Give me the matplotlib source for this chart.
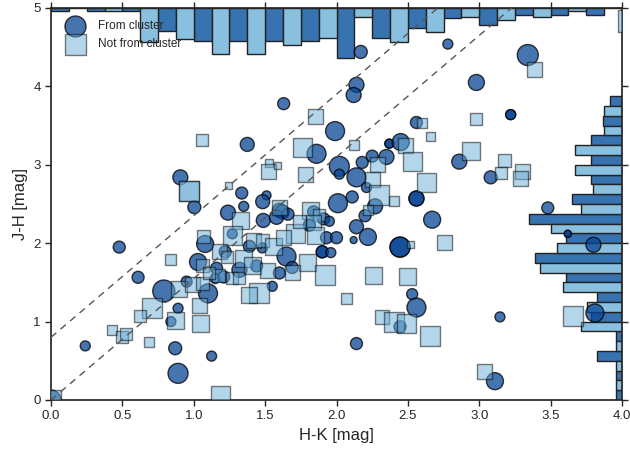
import numpy as np
import matplotlib
matplotlib.use("Agg")
import matplotlib.pyplot as plt

plt.rcParams["font.family"] = ["Liberation Sans", "DejaVu Sans"]

# histogram bins (0.25 mag), densities
bin_edges = np.arange(0, 4.01, 0.25)
top_cluster = [0.043, 0.043, 0.043, 0.298, 0.426, 0.426, 0.426, 0.426,
               0.638, 0.383, 0.255, 0.128, 0.213, 0.085, 0.085, 0.085]
top_field = [0.0, 0.043, 0.439, 0.392, 0.583, 0.583, 0.468, 0.383,
             0.115, 0.430, 0.311, 0.115, 0.158, 0.115, 0.043, 0.0]
right_cluster = [0.043, 0.043, 0.174, 0.043, 0.217, 0.174, 0.391, 0.608,
                 0.391, 0.652, 0.348, 0.217, 0.217, 0.217, 0.130, 0.087]
right_field = [0.041, 0.041, 0.041, 0.289, 0.247, 0.412, 0.577, 0.454,
               0.495, 0.289, 0.206, 0.330, 0.330, 0.124, 0.124, 0.0]

# reddening lines: J-H = slope * (H-K) + intercept
red_slope = 1.55
red_intercepts = [0.0, 0.8]

# cluster members (H-K, J-H, marker diameter in px)
cl_hk = [2.17, 2.78, 3.34, 2.98, 2.14, 2.12, 3.22, 3.22, 1.63, 1.99,
         1.375, 1.86, 2.02, 0.906, 1.336, 1.004, 1.51, 1.483, 1.60, 1.62,
         1.24, 0.478, 1.487, 1.81, 1.91, 1.93, 2.00, 1.08, 1.27, 2.56,
         2.37, 2.37, 2.45, 2.25, 2.35, 2.18, 2.02, 2.14, 2.21, 2.11,
         2.01, 2.56, 2.56, 2.27, 2.20, 0.61, 1.03, 0.79, 0.95, 1.10,
         0.89, 0.84, 1.16, 1.15, 1.22, 1.21, 1.32, 1.39, 1.48, 1.44,
         2.14, 2.22, 2.12, 2.445, 2.445, 1.90, 1.90, 1.96, 1.65, 1.69,
         2.53, 2.56, 2.445, 2.86, 3.08, 2.67, 3.145, 2.14, 3.11, 0.24,
         0.87, 0.89, 1.125, 3.48, 3.62, 3.62, 3.80, 3.81, 1.58, 1.66,
         1.84, 1.95, 1.35, 1.55, 1.60, 0.0]
cl_jh = [4.44, 4.54, 4.40, 4.05, 4.02, 3.89, 3.64, 3.64, 3.78, 3.43,
         3.26, 3.14, 2.98, 2.84, 2.64, 2.46, 2.61, 2.53, 2.42, 2.40,
         2.39, 1.95, 2.29, 2.23, 2.31, 2.07, 2.07, 1.99, 2.12, 3.54,
         3.27, 3.27, 3.29, 3.11, 3.10, 3.03, 2.88, 2.84, 2.71, 2.59,
         2.51, 2.57, 2.57, 2.47, 2.35, 1.565, 1.76, 1.39, 1.51, 1.36,
         1.17, 1.00, 1.68, 1.55, 1.89, 1.57, 1.66, 1.96, 1.94, 1.71,
         2.21, 2.08, 2.04, 1.95, 1.95, 1.89, 1.89, 1.88, 1.83, 1.69,
         1.35, 1.18, 0.935, 3.04, 2.84, 2.30, 1.06, 0.72, 0.24, 0.69,
         0.66, 0.34, 0.56, 2.45, 2.12, 2.12, 1.98, 1.11, 2.33, 2.37,
         2.40, 2.28, 2.47, 1.45, 1.62, 0.0]
cl_size = [13, 10, 21, 16, 15, 15, 10, 10, 12, 19,
           14, 19, 20, 15, 12, 13, 9, 14, 14, 14,
           15, 12, 14, 12, 12, 12, 12, 17, 10, 12,
           9, 9, 17, 12, 15, 12, 10, 19, 10, 12,
           19, 15, 15, 15, 12, 12, 17, 22, 11, 19,
           10, 10, 12, 10, 12, 12, 15, 12, 10, 12,
           14, 17, 7, 20, 20, 12, 12, 10, 19, 12,
           11, 19, 12, 15, 13, 17, 10, 12, 17, 10,
           13, 20, 10, 12, 7, 7, 15, 18, 14, 12,
           12, 10, 10, 10, 12, 20]

# non-members (H-K, J-H, marker side in px)
nc_hk = [3.39, 1.85, 1.06, 1.76, 1.525, 1.525, 1.585, 1.78, 0.97, 0.97,
         1.24, 1.60, 1.33, 1.71, 1.82, 1.88, 1.07, 1.27, 2.60, 2.12,
         2.48, 2.66, 2.53, 2.29, 2.25, 2.63, 2.30, 2.40, 2.22, 0.84,
         1.06, 0.90, 0.99, 1.06, 1.04, 0.705, 0.62, 0.87, 1.05, 1.18,
         1.17, 1.11, 1.23, 1.27, 1.32, 1.35, 1.42, 1.48, 1.56, 1.41,
         1.46, 1.39, 2.52, 1.80, 1.92, 1.69, 2.26, 2.50, 2.07, 2.32,
         2.40, 2.49, 2.98, 2.94, 3.18, 3.15, 3.30, 3.29, 2.755, 2.655,
         3.04, 0.425, 0.495, 0.525, 0.69, 1.19, 3.66, 4.05, 1.84, 1.85,
         1.63, 1.74, 1.52, 0.0]
nc_jh = [4.21, 3.61, 3.31, 3.22, 3.02, 2.92, 2.99, 2.88, 2.67, 2.67,
         2.73, 2.45, 2.29, 2.13, 2.42, 2.36, 2.08, 2.10, 3.53, 3.25,
         3.24, 3.36, 3.04, 3.00, 2.81, 2.77, 2.61, 2.54, 2.42, 1.79,
         1.72, 1.42, 1.47, 1.49, 1.21, 1.17, 1.075, 1.01, 0.98, 1.89,
         1.59, 1.62, 1.83, 1.55, 1.55, 1.81, 2.04, 2.04, 1.96, 1.71,
         1.36, 1.34, 1.98, 1.76, 1.60, 1.62, 1.59, 1.57, 1.30, 1.06,
         1.00, 0.98, 3.59, 3.17, 3.05, 2.90, 2.92, 2.83, 2.01, 0.81,
         0.36, 0.89, 0.80, 0.84, 0.74, 0.06, 1.07, 4.84, 2.27, 2.10,
         2.07, 2.28, 1.65, 0.0]
nc_size = [15, 15, 12, 19, 8, 15, 7, 15, 20, 20,
           7, 15, 17, 19, 17, 12, 13, 19, 10, 10,
           15, 9, 19, 15, 15, 19, 20, 10, 10, 11,
           13, 16, 15, 13, 15, 20, 12, 17, 17, 15,
           13, 12, 12, 12, 12, 17, 15, 13, 17, 17,
           20, 16, 7, 17, 20, 15, 17, 17, 11, 14,
           20, 19, 12, 18, 13, 12, 15, 15, 15, 20,
           15, 10, 12, 12, 10, 19, 20, 22, 15, 17,
           15, 13, 15, 20]

dark = "#084594"
light = "#6baed6"
bar_dark = "#3873b1"
bar_light = "#89bfdf"
ink = "#262626"

fig = plt.figure(figsize=(6.3, 4.53), dpi=100)
ax = fig.add_axes([51 / 630, 53 / 453, 571 / 630, 392 / 453])

half = 0.125
left = bin_edges[:-1]

# marginal histograms hanging from the top and right spines
ax.bar(left, -np.array(top_cluster), width=half, bottom=5, align="edge",
       color=bar_dark, edgecolor="#222222", linewidth=1, zorder=1)
ax.bar(left + half, -np.array(top_field), width=half, bottom=5, align="edge",
       color=bar_light, edgecolor="#222222", linewidth=1, zorder=1)
ax.barh(left, -np.array(right_cluster), height=half, left=4, align="edge",
        color=bar_dark, edgecolor="#222222", linewidth=1, zorder=1)
ax.barh(left + half, -np.array(right_field), height=half, left=4, align="edge",
        color=bar_light, edgecolor="#222222", linewidth=1, zorder=1)

# px -> points^2
to_s = lambda d: (np.array(d) * 0.72) ** 2

ax.scatter(cl_hk, cl_jh, s=to_s(cl_size), c=dark, alpha=0.75,
           edgecolors="k", linewidths=1, zorder=2, label="From cluster")
ax.scatter(nc_hk, nc_jh, s=to_s(nc_size), c=light, marker="s", alpha=0.5,
           edgecolors="k", linewidths=1, zorder=3, label="Not from cluster")

xs = np.array([0.0, 4.0])
for b in red_intercepts:
    ax.plot(xs, red_slope * xs + b, ls=(0, (5, 4)), color="#555555",
            lw=1, zorder=4)

ax.set_xlim(0, 4)
ax.set_ylim(0, 5)
ax.set_xticks(np.arange(0, 4.01, 0.5))
ax.set_yticks(range(6))
ax.set_xlabel("H-K [mag]", fontsize=12, color=ink)
ax.set_ylabel("J-H [mag]", fontsize=12, color=ink)
ax.tick_params(direction="out", length=4, width=1, top=True, right=True,
               labelsize=9.5, labelcolor=ink, color=ink)
for sp in ax.spines.values():
    sp.set_color(ink)
    sp.set_linewidth(1.25)

leg = ax.legend(loc="upper left", frameon=False, fontsize=8.5,
                scatterpoints=1, markerscale=1.0, borderaxespad=0.6,
                handletextpad=1.0, labelspacing=0.5)
for h in leg.legend_handles:
    h.set_sizes([(21 * 0.72) ** 2])
for t in leg.get_texts():
    t.set_color(ink)

fig.savefig("out.png", dpi=100)
